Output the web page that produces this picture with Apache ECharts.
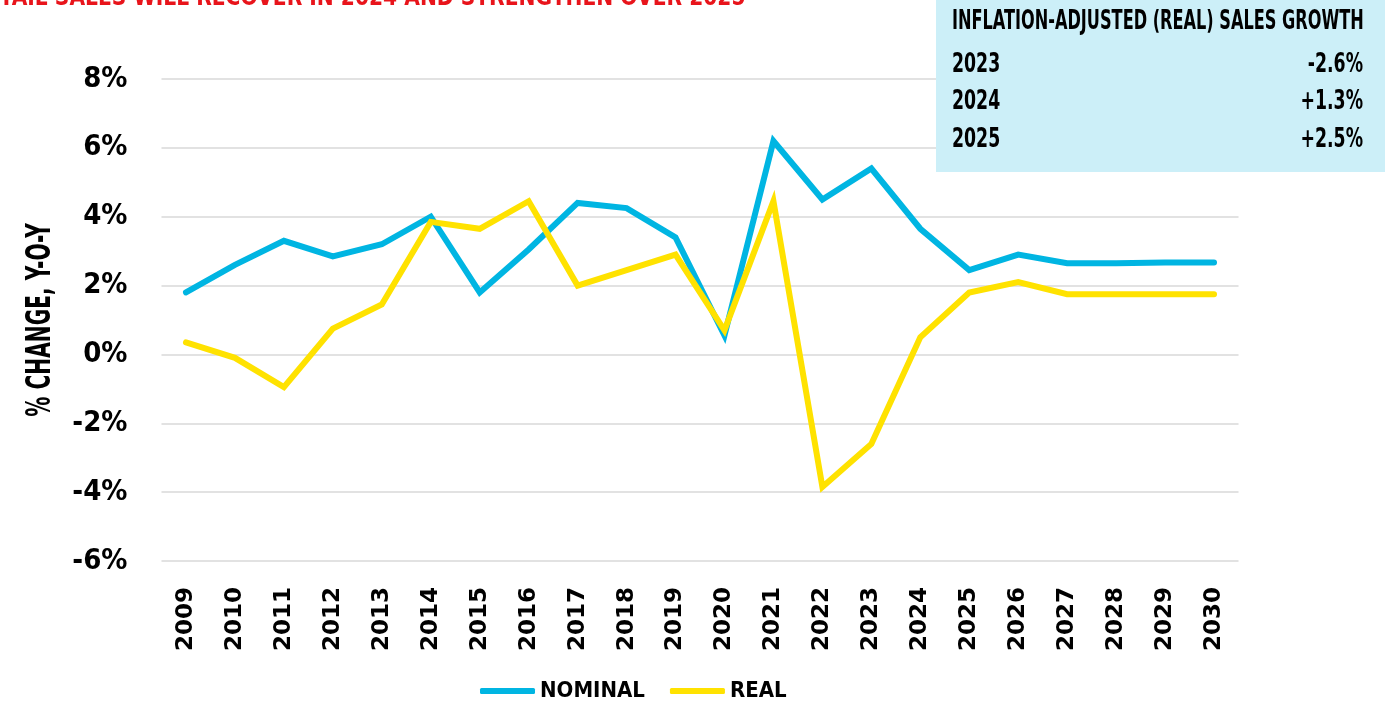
<!DOCTYPE html>
<html>
<head>
<meta charset="utf-8">
<script src="https://cdn.jsdelivr.net/npm/echarts@6/dist/echarts.min.js"></script>
<style>
html,body{margin:0;padding:0;background:#fff;}
#chart{width:1385px;height:706px;}
</style>
</head>
<body>
<div id="chart"></div>
<script>
var years = ['2009','2010','2011','2012','2013','2014','2015','2016','2017','2018','2019','2020','2021','2022','2023','2024','2025','2026','2027','2028','2029','2030'];
var nominal = [1.8, 2.6, 3.3, 2.85, 3.2, 4.0, 1.8, 3.05, 4.4, 4.25, 3.4, 0.55, 6.2, 4.5, 5.4, 3.65, 2.45, 2.9, 2.65, 2.65, 2.67, 2.67];
var real = [0.35, -0.1, -0.95, 0.75, 1.45, 3.85, 3.65, 4.45, 2.0, 2.45, 2.9, 0.7, 4.45, -3.85, -2.6, 0.5, 1.8, 2.1, 1.75, 1.75, 1.75, 1.75];
var yTicks = {min: -6, max: 8, interval: 2};
var titleText = 'RETAIL SALES WILL RECOVER IN 2024 AND STRENGTHEN OVER 2025';
var yAxisTitle = '% CHANGE, Y-O-Y';
var insetTitle = 'INFLATION-ADJUSTED (REAL) SALES GROWTH';
var insetYears = ['2023', '2024', '2025'];
var insetValues = ['-2.6%', '+1.3%', '+2.5%'];

var condensed = '"Liberation Sans Narrow", "DejaVu Sans Condensed", "Roboto Condensed", sans-serif';
var heavy = '"DejaVu Sans", "Liberation Sans", sans-serif';

var chart = echarts.init(document.getElementById('chart'), null, {renderer: 'canvas'});

var graphics = [
  {type: 'text', x: -30, y: -14, z: 10, scaleX: 0.81, originX: 0, originY: 0,
   style: {text: titleText, fill: '#E8141B', font: '900 25px ' + heavy}},
  {type: 'text', x: 41, y: 320, z: 10, rotation: Math.PI / 2, scaleX: 0.66, originX: 0, originY: 0,
   style: {text: yAxisTitle, fill: '#000', font: 'bold 34px ' + condensed, textAlign: 'center', textVerticalAlign: 'middle'}},
  {type: 'rect', shape: {x: 936, y: 0, width: 449, height: 172}, style: {fill: '#CCEFF8'}, z: 5},
  {type: 'text', x: 952, y: 22, z: 6, scaleX: 0.665, originX: 0, originY: 0,
   style: {text: insetTitle, fill: '#000', font: 'bold 27px ' + condensed, textVerticalAlign: 'middle', textAlign: 'left'}}
];
var rowYs = [65, 102, 140];
insetYears.forEach(function (y, i) {
  graphics.push({type: 'text', x: 952, y: rowYs[i], z: 6, scaleX: 0.74, originX: 0, originY: 0,
    style: {text: y, fill: '#000', font: 'bold 26px ' + condensed, textVerticalAlign: 'middle', textAlign: 'left'}});
  graphics.push({type: 'text', x: 1363, y: rowYs[i], z: 6, scaleX: 0.74, originX: 0, originY: 0,
    style: {text: insetValues[i], fill: '#000', font: 'bold 26px ' + condensed, textVerticalAlign: 'middle', textAlign: 'right'}});
});

chart.setOption({
  animation: false,
  backgroundColor: '#fff',
  grid: {left: 161.5, right: 146.5, top: 79, bottom: 145, containLabel: false},
  legend: {
    left: 480, top: 680, padding: 0,
    icon: 'roundRect', itemWidth: 55, itemHeight: 6, itemGap: 25,
    textStyle: {fontFamily: condensed, fontWeight: 'bold', fontSize: 22, color: '#000'},
    data: ['NOMINAL', 'REAL']
  },
  xAxis: {
    type: 'category', data: years, boundaryGap: true,
    axisLine: {show: false}, axisTick: {show: false},
    axisLabel: {rotate: 90, margin: 26, color: '#000', fontFamily: heavy, fontWeight: 'bold', fontSize: 23}
  },
  yAxis: {
    type: 'value', min: yTicks.min, max: yTicks.max, interval: yTicks.interval,
    axisLine: {show: false}, axisTick: {show: false},
    axisLabel: {margin: 34, color: '#000', fontFamily: condensed, fontWeight: 'bold', fontSize: 29,
      formatter: function (v) { return v + '%'; }},
    splitLine: {lineStyle: {color: '#E2E2E2', width: 2}}
  },
  series: [
    {name: 'NOMINAL', type: 'line', data: nominal, showSymbol: false, symbol: 'none',
     lineStyle: {color: '#00B5E2', width: 6, cap: 'round', join: 'miter'}, itemStyle: {color: '#00B5E2'}},
    {name: 'REAL', type: 'line', data: real, showSymbol: false, symbol: 'none',
     lineStyle: {color: '#FFE200', width: 6, cap: 'round', join: 'miter'}, itemStyle: {color: '#FFE200'}}
  ],
  graphic: graphics
});
</script>
</body>
</html>
